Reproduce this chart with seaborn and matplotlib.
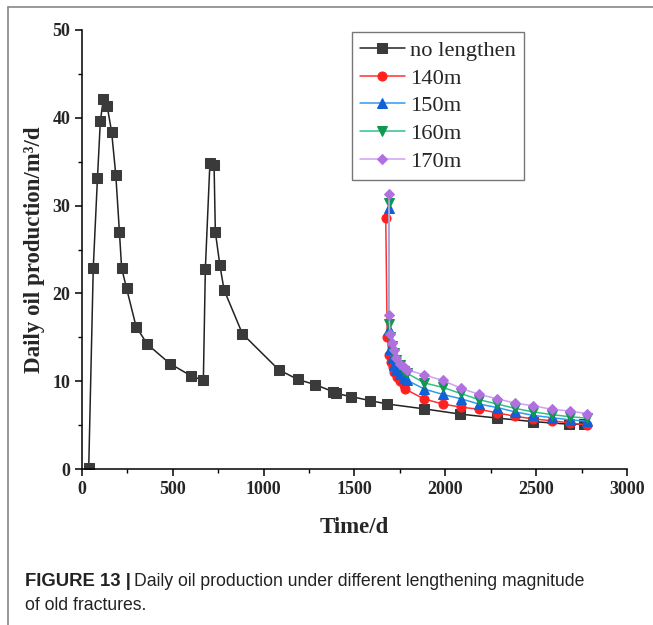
import matplotlib
matplotlib.use("Agg")
import matplotlib.pyplot as plt
from matplotlib.lines import Line2D
from matplotlib.ticker import MultipleLocator
import seaborn as sns
import pandas as pd

# data
base_days = [37, 62, 85, 101, 117, 138, 163, 186, 206, 218, 245, 298, 360, 484,
             601, 668, 679, 704, 727, 734, 759, 782, 883, 1083, 1188, 1285, 1383,
             1397, 1482, 1583, 1681, 1883, 2083, 2285, 2482, 2682, 2762]
base_rate = [0.1, 22.9, 33.1, 39.6, 42.1, 41.4, 38.4, 33.5, 27.0, 22.9, 20.6, 16.2,
             14.2, 12.0, 10.6, 10.1, 22.8, 34.8, 34.6, 27.0, 23.2, 20.4, 15.4, 11.3,
             10.2, 9.6, 8.8, 8.6, 8.25, 7.8, 7.4, 6.85, 6.25, 5.8, 5.4, 5.1, 5.1]

days_140 = [1672, 1680, 1690, 1700, 1710, 1720, 1735, 1750, 1770, 1780, 1880,
            1985, 2085, 2185, 2285, 2385, 2485, 2585, 2685, 2780]
rate_140 = [28.6, 15.0, 13.0, 12.2, 11.6, 11.1, 10.5, 10.0, 9.6, 9.1, 8.0, 7.4,
            7.05, 6.8, 6.4, 6.0, 5.7, 5.5, 5.25, 5.0]

days_long = [1690, 1691, 1695, 1705, 1715, 1730, 1750, 1770, 1790, 1885, 1985,
             2085, 2185, 2285, 2385, 2485, 2585, 2685, 2780]
rate_150 = [29.7, 16.0, 13.7, 12.6, 11.9, 11.3, 10.8, 10.4, 10.1, 9.1, 8.5, 8.0,
            7.4, 7.0, 6.5, 6.1, 5.85, 5.6, 5.45]
rate_160 = [30.3, 16.5, 15.0, 14.0, 13.2, 12.4, 11.8, 11.2, 10.9, 9.8, 9.3, 8.6,
            7.9, 7.4, 6.9, 6.5, 6.2, 5.95, 5.8]
rate_170 = [31.3, 17.5, 15.4, 14.4, 13.5, 12.6, 12.0, 11.6, 11.3, 10.7, 10.1, 9.2,
            8.5, 8.0, 7.5, 7.2, 6.8, 6.6, 6.3]

series = [
    ("no lengthen", base_days, base_rate, "#222222", "#3a3a3a", "s"),
    ("140m", days_140, rate_140, "#ff3030", "#ff2020", "o"),
    ("150m", days_long, rate_150, "#3399ee", "#1060d8", "^"),
    ("160m", days_long, rate_160, "#33c088", "#109850", "v"),
    ("170m", days_long, rate_170, "#cfa0f2", "#b070e0", "D"),
]

sns.set_style("ticks")
plt.rcParams["font.family"] = ["Liberation Serif", "DejaVu Serif"]

fig = plt.figure(figsize=(6.53, 6.25), dpi=100)
ax = fig.add_axes([82 / 653, 1 - 469 / 625, 545 / 653, 439 / 625])

for name, xs, ys, lc, mc, mk in series:
    df = pd.DataFrame({"t": xs, "q": ys})
    sns.lineplot(data=df, x="t", y="q", ax=ax, estimator=None, sort=False,
                 color=lc, linewidth=1.1, marker=mk,
                 markersize=6.5 if mk != "D" else 5.5,
                 markerfacecolor=mc, markeredgecolor=mc, label=name, legend=False)

ax.set_xlim(0, 3000)
ax.set_ylim(0, 50)
ax.xaxis.set_major_locator(MultipleLocator(500))
ax.xaxis.set_minor_locator(MultipleLocator(250))
ax.yaxis.set_major_locator(MultipleLocator(10))
ax.yaxis.set_minor_locator(MultipleLocator(5))
ax.tick_params(which="major", length=5, width=1.1, color="black", direction="out")
ax.tick_params(which="minor", length=3, width=1.0, color="black", direction="out")
for lab in ax.get_xticklabels() + ax.get_yticklabels():
    lab.set_fontweight("bold")
    lab.set_fontsize(13)
sns.despine(ax=ax)
for s in ["left", "bottom"]:
    ax.spines[s].set_color("black")
    ax.spines[s].set_linewidth(1.1)

ax.set_xlabel("Time/d", fontsize=16.5, fontweight="bold", labelpad=14)
ax.set_ylabel("Daily oil production/m³/d", fontsize=16.5, fontweight="bold", labelpad=5)

leg = ax.legend(loc="upper left", bbox_to_anchor=(0.495, 0.995), fontsize=16.2,
                frameon=True, fancybox=False, edgecolor="#555555", handlelength=2.0,
                handletextpad=0.25, borderpad=0.35, labelspacing=0.31, borderaxespad=0)
leg.get_frame().set_linewidth(1.0)

# caption below the chart
bold_part = fig.text(25 / 653, 1 - 581 / 625, "FIGURE 13 |", fontsize=13.3,
                     fontweight="bold", family="Liberation Sans", color="#222222",
                     va="center")
renderer = fig.canvas.get_renderer()
bb = bold_part.get_window_extent(renderer=renderer)
fig.text(bb.x1 / fig.bbox.width + 3 / 653, 1 - 581 / 625,
         "Daily oil production under different lengthening magnitude",
         fontsize=12.7, family="Liberation Sans", color="#222222", va="center")
fig.text(25 / 653, 1 - 606 / 625, "of old fractures.", fontsize=12.7,
         family="Liberation Sans", color="#222222", va="center")

# thin page frame on left and top
fig.add_artist(Line2D([8 / 653, 8 / 653], [0, 1 - 7 / 625], transform=fig.transFigure,
                      color="#888888", linewidth=1.2))
fig.add_artist(Line2D([8 / 653, 1], [1 - 7 / 625, 1 - 7 / 625], transform=fig.transFigure,
                      color="#888888", linewidth=1.2))

fig.savefig("out.png", dpi=100)
